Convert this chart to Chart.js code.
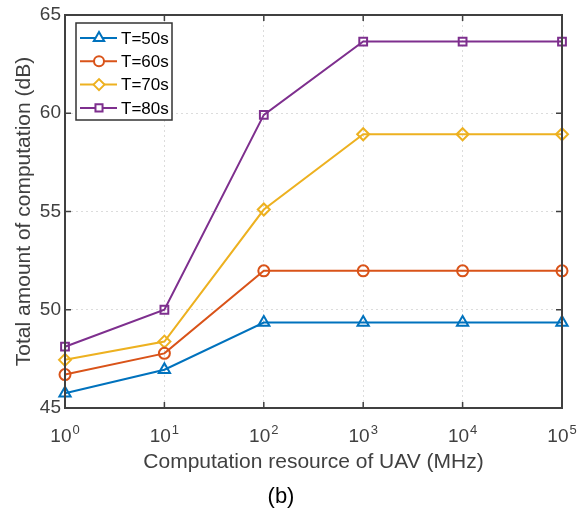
<!DOCTYPE html>
<html>
<head>
<meta charset="utf-8">
<script src="https://cdn.jsdelivr.net/npm/chart.js@4/dist/chart.umd.min.js"></script>
<style>
html,body{margin:0;padding:0;background:#fff;}
#wrap{width:581px;height:515px;position:relative;}
</style>
</head>
<body>
<div id="wrap"><canvas id="c" width="581" height="515"></canvas></div>
<script>
const xValues = [1, 10, 100, 1000, 10000, 100000];
const xTickExponents = [0, 1, 2, 3, 4, 5];
const yTicks = [45, 50, 55, 60, 65];
const seriesNames = ['T=50s', 'T=60s', 'T=70s', 'T=80s'];
const t50 = [45.75, 46.95, 49.35, 49.35, 49.35, 49.35];
const t60 = [46.7, 47.78, 51.98, 51.98, 51.98, 51.98];
const t70 = [47.45, 48.38, 55.1, 58.93, 58.93, 58.93];
const t80 = [48.12, 50.0, 59.92, 63.65, 63.65, 63.65];
const xTitle = 'Computation resource of UAV (MHz)';
const yTitle = 'Total amount of computation (dB)';
const caption = '(b)';

const colors = ['#0072BD', '#D95319', '#EDB120', '#7E2F8E'];
const styles = ['triangle', 'circle', 'rectRot', 'rect'];
const radii = [6.5, 5.5, 6, 5.5];
const legendRadii = [6, 5, 5.5, 5];
const allSeries = [t50, t60, t70, t80];
const FONT = '"Liberation Sans", Arial, Helvetica, sans-serif';
const AXC = '#404040';

const datasets = allSeries.map((s, i) => ({
  label: seriesNames[i],
  data: xValues.map((x, j) => ({x: x, y: s[j]})),
  borderColor: colors[i],
  backgroundColor: 'rgba(0,0,0,0)',
  borderWidth: 2,
  pointStyle: styles[i],
  pointRadius: radii[i],
  pointHoverRadius: radii[i],
  pointBorderWidth: 2,
  pointBorderColor: colors[i],
  pointBackgroundColor: 'rgba(0,0,0,0)',
  tension: 0,
  clip: false
}));

const boxPlugin = {
  id: 'boxTicks',
  afterDatasetsDraw(chart) {
    const {ctx, chartArea: a, scales} = chart;
    ctx.save();
    ctx.strokeStyle = AXC;
    ctx.lineWidth = 1.5;
    scales.x.ticks.forEach(t => {
      const px = scales.x.getPixelForValue(t.value);
      ctx.beginPath();
      ctx.moveTo(px, a.bottom); ctx.lineTo(px, a.bottom - 6);
      ctx.moveTo(px, a.top); ctx.lineTo(px, a.top + 6);
      ctx.stroke();
    });
    scales.y.ticks.forEach(t => {
      const py = scales.y.getPixelForValue(t.value);
      ctx.beginPath();
      ctx.moveTo(a.left, py); ctx.lineTo(a.left + 6, py);
      ctx.moveTo(a.right, py); ctx.lineTo(a.right - 6, py);
      ctx.stroke();
    });
    ctx.lineWidth = 2;
    ctx.strokeRect(a.left, a.top, a.right - a.left, a.bottom - a.top);
    // x tick labels as 10 with superscript exponent
    ctx.fillStyle = AXC;
    ctx.textBaseline = 'alphabetic';
    ctx.textAlign = 'left';
    scales.x.ticks.forEach(t => {
      const px = scales.x.getPixelForValue(t.value);
      const exp = String(Math.round(Math.log10(t.value)));
      ctx.font = '19px ' + FONT;
      const wb = ctx.measureText('10').width;
      ctx.font = '13px ' + FONT;
      const we = ctx.measureText(exp).width;
      const x0 = px - (wb + we + 1) / 2;
      ctx.font = '19px ' + FONT;
      ctx.fillText('10', x0, a.bottom + 33.5);
      ctx.font = '13px ' + FONT;
      ctx.fillText(exp, x0 + wb + 1, a.bottom + 25.5);
    });
    ctx.restore();
  },
  afterDraw(chart) {
    const {ctx, chartArea: a} = chart;
    const lx = a.left + 11, ly = a.top + 8, lw = 96, lh = 97;
    ctx.save();
    ctx.fillStyle = '#fff';
    ctx.fillRect(lx, ly, lw, lh);
    ctx.strokeStyle = '#333';
    ctx.lineWidth = 1.5;
    ctx.strokeRect(lx, ly, lw, lh);
    chart.data.datasets.forEach((d, i) => {
      const cy = ly + 15 + i * 23.3;
      ctx.strokeStyle = d.borderColor;
      ctx.lineWidth = 2;
      ctx.beginPath();
      ctx.moveTo(lx + 4, cy); ctx.lineTo(lx + 41, cy);
      ctx.stroke();
      ctx.fillStyle = '#fff';
      ctx.strokeStyle = d.borderColor;
      ctx.lineWidth = 2;
      Chart.helpers.drawPoint(ctx, {
        pointStyle: d.pointStyle, rotation: 0,
        radius: legendRadii[i], borderWidth: 2
      }, lx + 23, cy);
      ctx.fillStyle = '#000';
      ctx.font = '17px ' + FONT;
      ctx.textBaseline = 'middle';
      ctx.textAlign = 'left';
      ctx.fillText(d.label, lx + 45, cy + 1);
    });
    ctx.restore();
  }
};

new Chart(document.getElementById('c'), {
  type: 'line',
  data: {datasets: datasets},
  plugins: [boxPlugin],
  options: {
    responsive: false,
    animation: false,
    devicePixelRatio: 1,
    layout: {padding: {left: 0, right: 19, top: 15, bottom: 0}},
    plugins: {
      legend: {display: false},
      tooltip: {enabled: false},
      title: {
        display: true, position: 'bottom', text: caption,
        color: '#000', font: {family: FONT, size: 22, weight: 'normal'},
        padding: {top: 8.8, bottom: 4.8}
      }
    },
    scales: {
      x: {
        type: 'logarithmic', min: 1, max: 100000,
        afterBuildTicks: s => { s.ticks = xTickExponents.map(e => ({value: Math.pow(10, e)})); },
        afterFit: s => { s.height = 67; s.paddingLeft = 0; s.paddingRight = 0; },
        ticks: {display: false, autoSkip: false, maxRotation: 0},
        grid: {color: '#dcdcdc', lineWidth: 1, drawTicks: false},
        border: {display: true, color: AXC, width: 2, dash: [2, 3]},
        title: {display: true, text: xTitle, color: AXC, font: {family: FONT, size: 21}, padding: {top: 0, bottom: 0}}
      },
      y: {
        type: 'linear', min: 45, max: 65,
        afterBuildTicks: s => { s.ticks = yTicks.map(v => ({value: v})); },
        afterFit: s => { s.width = 65; s.paddingTop = 0; s.paddingBottom = 0; },
        ticks: {color: AXC, font: {family: FONT, size: 19}, padding: 4},
        grid: {color: '#dcdcdc', lineWidth: 1, drawTicks: false},
        border: {display: true, color: AXC, width: 2, dash: [2, 3]},
        title: {display: true, text: yTitle, color: AXC, font: {family: FONT, size: 21}, padding: {top: 11.4, bottom: 0}}
      }
    }
  }
});
</script>
</body>
</html>
